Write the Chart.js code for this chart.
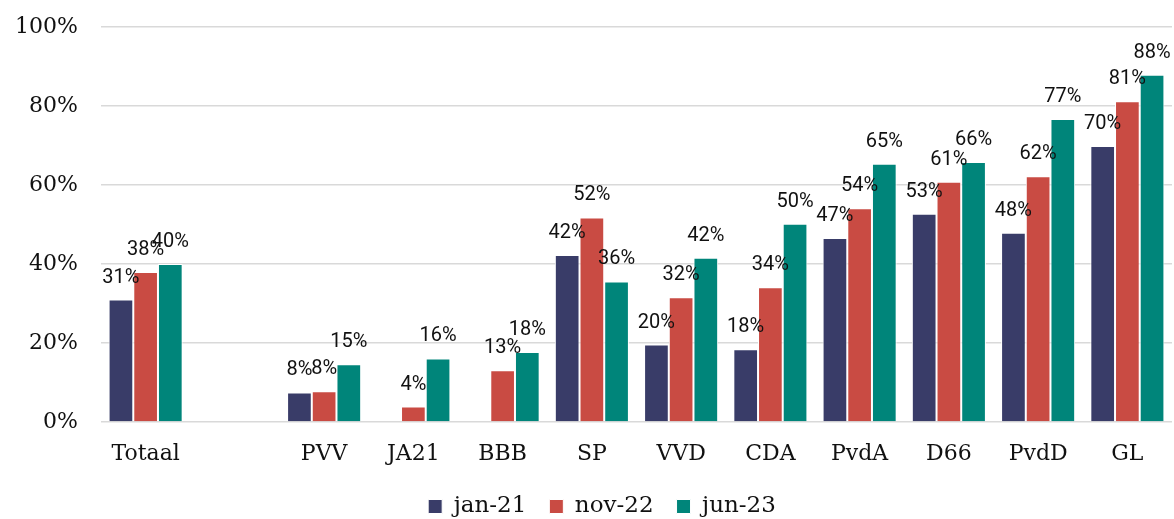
<!DOCTYPE html>
<html>
<head>
<meta charset="utf-8">
<script src="https://cdn.jsdelivr.net/npm/chart.js@4.4.1/dist/chart.umd.min.js"></script>
<style>
    html, body { margin: 0; padding: 0; background: #fff; }
    #wrap { width: 1174px; height: 519px; }
</style>
</head>
<body>
<div id="wrap"><canvas id="partyChart"></canvas></div>
<script>
// Categories (the empty one gives the gap after Totaal)
const categories = ['Totaal', '', 'PVV', 'JA21', 'BBB', 'SP', 'VVD', 'CDA', 'PvdA', 'D66', 'PvdD', 'GL'];

// Series values in percent
const jan21 = [31, null, 7.5, null, null, 42.3, 19.6, 18.4, 46.6, 52.7, 47.9, 69.9];
const nov22 = [38, null, 7.8, 3.9, 13.1, 51.8, 31.6, 34.1, 54.1, 60.8, 62.2, 81.2];
const jun23 = [40, null, 14.6, 16.1, 17.7, 35.6, 41.6, 50.2, 65.4, 65.8, 76.7, 87.9];

const seriesNames = ['jan-21', 'nov-22', 'jun-23'];
const yTicks = [0, 20, 40, 60, 80, 100];

const colors = ['#393c68', '#c94b43', '#00857a'];

// Draw value labels above each bar
const barLabels = {
    id: 'barLabels',
    afterDatasetsDraw(chart) {
        const ctx = chart.ctx;
        ctx.save();
        ctx.font = '20px Roboto';
        ctx.fillStyle = '#111';
        ctx.textAlign = 'center';
        ctx.textBaseline = 'alphabetic';
        chart.data.datasets.forEach((ds, i) => {
            const meta = chart.getDatasetMeta(i);
            meta.data.forEach((bar, j) => {
                const v = ds.data[j];
                if (v === null || v === undefined) return;
                ctx.fillText(Math.round(v) + '%', bar.x, bar.y - 17);
            });
        });
        ctx.restore();
    }
};

// Nudge the legend a bit right and down, like in the original
const legendShift = {
    id: 'legendShift',
    afterLayout(chart) {
        if (chart.legend) {
            chart.legend.left += 16;
            chart.legend.right += 16;
            chart.legend.top += 9;
            chart.legend.bottom += 9;
        }
    }
};

const ctx = document.getElementById('partyChart').getContext('2d');
new Chart(ctx, {
    type: 'bar',
    data: {
        labels: categories,
        datasets: [jan21, nov22, jun23].map((data, i) => ({
            label: seriesNames[i],
            data: data,
            backgroundColor: colors[i],
            borderColor: '#ffffff',
            borderWidth: 1,
            borderSkipped: 'start',
            categoryPercentage: 0.83,
            barPercentage: 1
        }))
    },
    options: {
        responsive: true,
        maintainAspectRatio: false,
        animation: false,
        layout: {
            padding: { top: 27, right: 2, left: 0, bottom: 0 }
        },
        plugins: {
            legend: {
                position: 'bottom',
                labels: {
                    font: { family: 'DejaVu Serif', size: 23 },
                    color: '#111',
                    boxWidth: 14,
                    boxHeight: 14,
                    padding: 0,
                    generateLabels(chart) {
                        const items = Chart.defaults.plugins.legend.labels.generateLabels(chart);
                        // extra room between legend entries
                        return items.map((it, k) => {
                            if (k < items.length - 1) it.text = it.text + '\u2003';
                            return it;
                        });
                    }
                }
            },
            tooltip: { enabled: false }
        },
        scales: {
            x: {
                grid: { display: false },
                border: { display: false },
                afterFit(axis) {
                    axis.height = 64;
                },
                ticks: {
                    font: { family: 'DejaVu Serif', size: 22 },
                    color: '#111',
                    padding: 11,
                    maxRotation: 0
                }
            },
            y: {
                min: 0,
                max: 100,
                afterBuildTicks(axis) {
                    axis.ticks = yTicks.map(v => ({ value: v }));
                },
                afterFit(axis) {
                    axis.width = 101;
                    axis.paddingTop = 14;
                    axis.paddingBottom = 0;
                },
                grid: {
                    color: '#d9d9d9',
                    lineWidth: 1.5,
                    drawTicks: false
                },
                border: { display: false },
                ticks: {
                    font: { family: 'DejaVu Serif', size: 22 },
                    color: '#111',
                    padding: 23,
                    callback: v => v + '%'
                }
            }
        }
    },
    plugins: [barLabels, legendShift]
});
</script>
</body>
</html>
